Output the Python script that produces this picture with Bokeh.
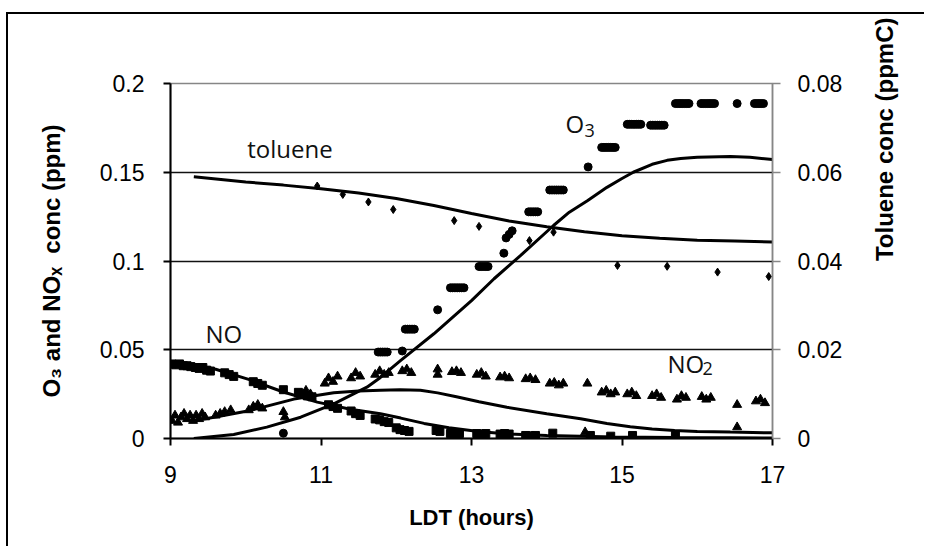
import math
from bokeh.plotting import figure
from bokeh.models import Range1d, LinearAxis, FixedTicker, Title
from bokeh.embed import file_html
from bokeh.resources import INLINE
from bokeh.core.properties import value

# ---------------- data ----------------
x_ticks = [9, 11, 13, 15, 17]
x_tick_labels = ["9", "11", "13", "15", "17"]
y_ticks = [0, 0.05, 0.1, 0.15, 0.2]
y_tick_labels = ["0", "0.05", "0.1", "0.15", "0.2"]
y2_ticks = [0, 0.02, 0.04, 0.06, 0.08]
y2_tick_labels = ["0", "0.02", "0.04", "0.06", "0.08"]

# model curves
o3_model_t = [9.31, 9.84, 10.28, 10.73, 11.17, 11.61, 11.79, 12.06, 12.5, 13.0, 13.3, 13.65,
              14.09, 14.3, 14.54, 14.8, 15.0, 15.15, 15.4, 15.6, 15.78, 16.0, 16.44, 16.7, 17.0]
o3_model = [0.0, 0.0023, 0.0064, 0.012, 0.0195, 0.0289, 0.0344, 0.044, 0.059, 0.0777, 0.090, 0.103,
            0.120, 0.1275, 0.134, 0.1415, 0.1465, 0.1500, 0.1545, 0.1567, 0.1578, 0.1585, 0.1589, 0.1584, 0.1572]

no_model_t = [9.31, 9.6, 10.06, 10.5, 10.95, 11.39, 11.79, 12.06, 12.37, 12.7, 13.12, 13.5, 14.0, 14.9, 15.7, 16.44, 17.0]
no_model = [0.0415, 0.039, 0.033, 0.0262, 0.0205, 0.0165, 0.0139, 0.0115, 0.0085, 0.006, 0.0038, 0.0026, 0.0017, 0.0008, 0.0005, 0.0004, 0.0003]

no2_model_t = [9.31, 9.58, 10.06, 10.64, 11.17, 11.5, 11.79, 12.05, 12.32, 12.55, 12.8, 13.1, 13.47, 14.0, 14.45, 14.8, 15.11, 15.4, 15.7, 16.0, 16.44, 17.0]
no2_model = [0.010, 0.012, 0.0158, 0.0222, 0.0258, 0.0268, 0.0272, 0.0274, 0.0272, 0.0257, 0.0235, 0.0207, 0.0176, 0.0140, 0.0111, 0.0085, 0.0066, 0.0053, 0.0045, 0.0040, 0.0036, 0.0032]

tol_model_t = [9.31, 10, 10.5, 11, 11.5, 12, 12.5, 13, 13.5, 14, 14.5, 15, 15.5, 16, 16.5, 17]
tol_model = [0.0590, 0.0578, 0.0571, 0.0563, 0.0553, 0.0541, 0.0525, 0.0507, 0.0490, 0.0477, 0.0466, 0.0457, 0.0451, 0.0447, 0.0445, 0.0443]

# measurements
o3_t = [10.50, 11.76, 11.79, 11.82, 11.85, 11.88, 12.08, 12.12, 12.15, 12.18, 12.21, 12.24, 12.55,
        12.72, 12.75, 12.78, 12.81, 12.84, 12.87, 12.90, 13.10, 13.13, 13.16, 13.19, 13.22,
        13.43, 13.46, 13.50, 13.54,
        13.76, 13.79, 13.82, 13.85, 13.88, 14.04, 14.07, 14.10, 14.13, 14.16, 14.19, 14.22, 14.55,
        14.73, 14.76, 14.79, 14.82, 14.85, 14.88, 14.91,
        15.07, 15.10, 15.13, 15.16, 15.19, 15.22, 15.25,
        15.38, 15.41, 15.44, 15.47, 15.50, 15.53, 15.56,
        15.71, 15.74, 15.77, 15.80, 15.83, 15.86, 15.89,
        16.05, 16.08, 16.11, 16.14, 16.17, 16.20, 16.23,
        16.53, 16.76, 16.79, 16.82, 16.85, 16.88]
o3_v = [0.003, 0.0487, 0.0487, 0.0487, 0.0487, 0.0487, 0.0493, 0.0616, 0.0616, 0.0616, 0.0616, 0.0616, 0.0725,
        0.0849, 0.0849, 0.0849, 0.0849, 0.0849, 0.0849, 0.0849, 0.0969, 0.0969, 0.0969, 0.0969, 0.0969,
        0.1044, 0.113, 0.115, 0.117,
        0.1277, 0.1277, 0.1277, 0.1277, 0.1277, 0.140, 0.140, 0.140, 0.140, 0.140, 0.140, 0.140, 0.153,
        0.164, 0.164, 0.164, 0.164, 0.164, 0.164, 0.164,
        0.177, 0.177, 0.177, 0.177, 0.177, 0.177, 0.177,
        0.1765, 0.1765, 0.1765, 0.1765, 0.1765, 0.1765, 0.1765,
        0.1887, 0.1887, 0.1887, 0.1887, 0.1887, 0.1887, 0.1887,
        0.1887, 0.1887, 0.1887, 0.1887, 0.1887, 0.1887, 0.1887,
        0.1887, 0.1887, 0.1887, 0.1887, 0.1887, 0.1887]

no_t = [9.02, 9.07, 9.12, 9.17, 9.22, 9.27, 9.33, 9.38, 9.43, 9.48, 9.53,
        9.72, 9.78, 9.84, 10.10, 10.16, 10.22, 10.50, 10.70, 10.76, 10.82, 10.88,
        11.10, 11.16, 11.22, 11.40, 11.46, 11.52, 11.72, 11.78, 11.84, 11.90,
        12.00, 12.05, 12.11, 12.17, 12.53, 12.58, 12.72, 12.78, 12.84,
        13.07, 13.13, 13.19, 13.38, 13.44, 13.50, 13.72, 13.78, 13.85,
        14.08, 14.58, 14.85, 15.14, 15.71]
no_v = [0.042, 0.0415, 0.042, 0.041, 0.041, 0.0405, 0.040, 0.0395, 0.040, 0.0385, 0.038,
        0.037, 0.036, 0.035, 0.032, 0.031, 0.030, 0.0275, 0.026, 0.025, 0.024, 0.0235,
        0.019, 0.018, 0.017, 0.0155, 0.014, 0.013, 0.011, 0.0105, 0.0095, 0.009,
        0.006, 0.005, 0.0045, 0.004, 0.0045, 0.004, 0.0028, 0.0025, 0.0028,
        0.0028, 0.0025, 0.0028, 0.0025, 0.0028, 0.0025, 0.0017, 0.0015, 0.0017,
        0.003, 0.0017, 0.0013, 0.0017, 0.0017]

no2_t = [9.02, 9.06, 9.10, 9.14, 9.18, 9.22, 9.26, 9.30, 9.34, 9.38, 9.42, 9.46,
         9.60, 9.66, 9.72, 9.80, 10.04, 10.10, 10.16, 10.22, 10.50, 10.52,
         10.74, 10.80, 10.86, 11.05, 11.10, 11.16, 11.22, 11.40, 11.46, 11.52,
         11.72, 11.78, 11.84, 11.90, 12.08, 12.14, 12.20, 12.55, 12.55,
         12.74, 12.80, 12.86, 13.07, 13.13, 13.19, 13.38, 13.44, 13.50,
         13.72, 13.78, 13.85, 14.04, 14.10, 14.16, 14.22, 14.54,
         14.73, 14.79, 14.85, 14.91, 15.07, 15.13, 15.19, 15.40, 15.46, 15.52,
         15.73, 15.79, 15.85, 16.06, 16.12, 16.18, 14.51, 16.53, 16.53,
         16.78, 16.84, 16.90]
no2_v = [0.010, 0.013, 0.009, 0.012, 0.014, 0.011, 0.013, 0.010, 0.013, 0.011, 0.014, 0.012,
         0.013, 0.014, 0.015, 0.016, 0.016, 0.018, 0.019, 0.017, 0.015, 0.012,
         0.024, 0.027, 0.025, 0.031, 0.034, 0.032, 0.035, 0.034, 0.037, 0.035,
         0.036, 0.038, 0.036, 0.037, 0.038, 0.039, 0.037, 0.039, 0.036,
         0.0375, 0.038, 0.037, 0.036, 0.037, 0.035, 0.0345, 0.035, 0.034,
         0.0335, 0.034, 0.033, 0.031, 0.0315, 0.030, 0.031, 0.031,
         0.026, 0.027, 0.025, 0.026, 0.025, 0.026, 0.024, 0.024, 0.025, 0.023,
         0.022, 0.024, 0.023, 0.0235, 0.022, 0.023, 0.0036, 0.0064, 0.019,
         0.021, 0.022, 0.020]

tol_t = [10.95, 11.29, 11.63, 11.96, 12.77, 13.10, 13.77, 14.09, 14.94, 15.60, 16.27, 16.95]
tol_v = [0.0569, 0.0550, 0.0533, 0.0516, 0.0491, 0.0478, 0.0446, 0.0465, 0.0390, 0.0388, 0.0375, 0.0365]

# in-chart labels
label_text = ["toluene", "NO", "O", "NO"]
label_x = [10.02, 9.465, 14.25, 15.605]
label_y = [0.1633, 0.0591, 0.1774, 0.0424]
sub_text = ["3", "2"]
sub_x = [14.50, 16.07]
sub_y = [0.1733, 0.0395]

# ---------------- figure ----------------
p = figure(width=918, height=534, x_range=Range1d(9, 17), y_range=Range1d(0, 0.2),
           output_backend="svg", toolbar_location=None,
           min_border_left=162, min_border_right=154, min_border_top=69, min_border_bottom=110,
           margin=(14, 0, 0, 8))
p.styles = {"box-shadow": "-2px -2px 0 0 #000"}
p.background_fill_color = "white"
p.border_fill_color = "white"
p.outline_line_color = "#868686"
p.outline_line_width = 1.5

p.xgrid.visible = False
p.ygrid.ticker = FixedTicker(ticks=[0.05, 0.1, 0.15])
p.ygrid.grid_line_color = "#111111"
p.ygrid.grid_line_width = 1.3

tick_font = "Liberation Sans"

xa = p.xaxis[0]
xa.ticker = FixedTicker(ticks=x_ticks)
xa.major_label_overrides = dict(zip(x_ticks, x_tick_labels))
ya = p.yaxis[0]
ya.ticker = FixedTicker(ticks=y_ticks)
ya.major_label_overrides = dict(zip(y_ticks, y_tick_labels))
ya.axis_label = "O\u2083 and NO\u2093\u00a0 conc (ppm)"
ya.axis_label_standoff = 32

p.extra_y_ranges = {"tol": Range1d(0, 0.08)}
ra = LinearAxis(y_range_name="tol")
ra.ticker = FixedTicker(ticks=y2_ticks)
ra.major_label_overrides = dict(zip(y2_ticks, y2_tick_labels))
ra.axis_label = "Toluene conc (ppmC)"
ra.axis_label_standoff = 39
ra.axis_label_orientation = math.pi / 2
p.add_layout(ra, "right")

for ax, col, lw, standoff, tick in [(xa, "#000000", 2, 20, 7), (ya, "#000000", 2, 19, 7), (ra, "#868686", 1.5, 17, 8)]:
    ax.axis_line_color = col
    ax.axis_line_width = lw
    ax.major_tick_line_color = col
    ax.major_tick_line_width = lw
    ax.major_tick_out = tick
    ax.major_tick_in = 0
    ax.minor_tick_line_color = None
    ax.major_label_standoff = standoff
    ax.major_label_text_font = tick_font
    ax.major_label_text_font_size = "23px"
    ax.major_label_text_color = "black"
    ax.axis_label_text_font = tick_font
    ax.axis_label_text_font_size = "24px"
    ax.axis_label_text_font_style = "bold"
    ax.axis_label_text_color = "black"

xtitle = Title(text="LDT (hours)", align="center", offset=19, standoff=35,
               text_font=tick_font, text_font_size="22px", text_font_style="bold",
               text_color="black")
p.add_layout(xtitle, "below")

# model lines
p.line(o3_model_t, o3_model, line_width=3, color="black")
p.line(no_model_t, no_model, line_width=3, color="black")
p.line(no2_model_t, no2_model, line_width=3, color="black")
p.line(tol_model_t, tol_model, line_width=3, color="black", y_range_name="tol")

# measured points
p.scatter(o3_t, o3_v, marker="circle", size=8, color="black")
p.scatter(no_t, no_v, marker="square", size=8, color="black")
p.scatter(no2_t, no2_v, marker="triangle", size=9, color="black")
p.scatter(tol_t, tol_v, marker="diamond", size=8, color="black", y_range_name="tol")

# labels
p.text(x=label_x, y=label_y, text=label_text, text_font=value("Open Sans"),
       text_font_size="24px", text_baseline="alphabetic", text_align="left", text_color="#111111")
p.text(x=sub_x, y=sub_y, text=sub_text, text_font=value("Open Sans"),
       text_font_size="18px", text_baseline="alphabetic", text_align="left", text_color="#111111")

open("out.html", "w").write(file_html(p, INLINE))
